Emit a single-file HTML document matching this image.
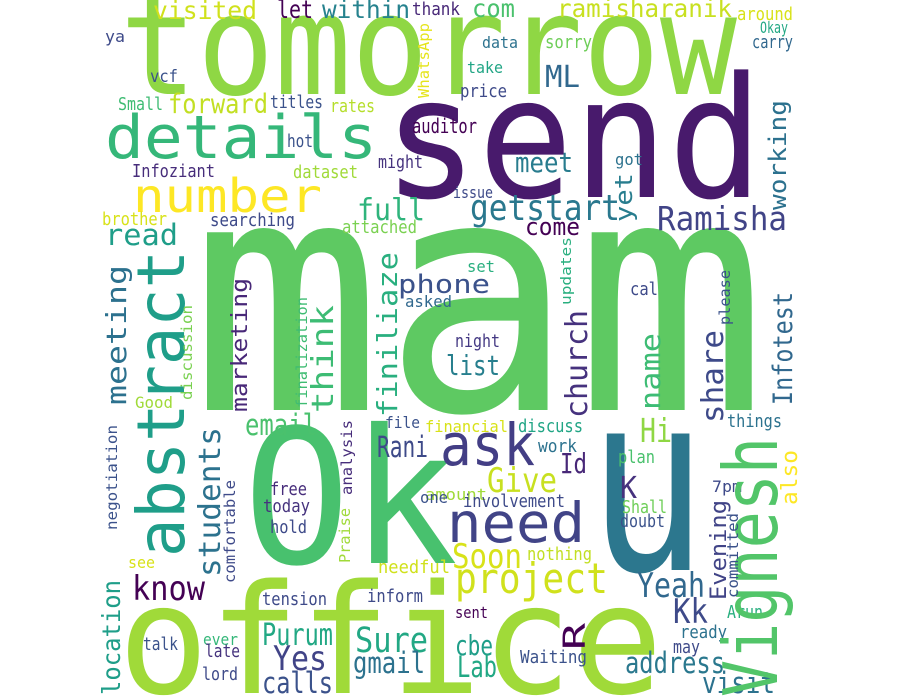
<!DOCTYPE html>
<html><head><meta charset="utf-8"><style>
html,body{margin:0;padding:0;background:#fff;width:900px;height:700px;overflow:hidden}
svg text{font-family:"DejaVu Sans Mono","Liberation Mono",monospace}
</style></head><body>
<svg id="cloud" width="900" height="700" viewBox="0 0 900 700" xmlns="http://www.w3.org/2000/svg">
<rect x="0" y="0" width="900" height="700" fill="#fff"/>
</svg>
<script>
// [text, x, y, fontSize, length, color, rotated]
const words = [
["tomorrow",120,94,140,617,"#8fd744",0],
["send",383,197,168,380,"#481a6c",0],
["mam",190,410,325,577,"#5ec962",0],
["Ok",243,563,187,215,"#48c16e",0],
["u",588,570,250,119,"#2c778e",0],
["office",118,693,152,545,"#a0da39",0],
["details",105,158,60,272,"#35b779",0],
["number",133,212,46,189,"#fde725",0],
["visited",153,19,25,104,"#d0e11c",0],
["let",277,18,25,36,"#440154",0],
["within",322,18,25,88,"#26828e",0],
["thank",412,15,18,48,"#482878",0],
["ya",105,42,16,20,"#3e4a89",0],
["vcf",150,82,17,28,"#3b528b",0],
["Small",118,110,18,45,"#3fbc73",0],
["forward",168,113,27,100,"#c2df23",0],
["titles",270,108,18,53,"#3b528b",0],
["rates",330,112,18,45,"#b5de2b",0],
["auditor",412,133,20,65,"#440154",0],
["hot",287,147,18,26,"#3b528b",0],
["might",378,168,18,45,"#46337e",0],
["Infoziant",132,177,18,83,"#472d7b",0],
["dataset",293,178,18,65,"#a0da39",0],
["full",357,220,30,68,"#2fb47c",0],
["brother",102,225,18,65,"#d8e219",0],
["searching",210,226,18,85,"#3e4a89",0],
["attached",342,233,18,75,"#7ad151",0],
["read",105,245,29,73,"#1f9e89",0],
["phone",398,293,26,92,"#3b528b",0],
["asked",405,307,16,47,"#31688e",0],
["com",472,17,25,43,"#4ac16d",0],
["ramisharanik",557,17,25,175,"#c8e020",0],
["around",737,20,18,56,"#d8e219",0],
["Okay",760,33,16,28,"#22a884",0],
["data",482,48,16,36,"#2c728e",0],
["sorry",545,48,18,47,"#6ece58",0],
["carry",752,48,18,41,"#31688e",0],
["take",467,73,16,36,"#21a585",0],
["ML",545,87,30,35,"#31688e",0],
["price",460,97,18,47,"#3e4a89",0],
["meet",515,172,28,58,"#287c8e",0],
["got",615,165,16,28,"#2c728e",0],
["issue",453,198,16,40,"#3e4a89",0],
["getstart",470,220,36,150,"#2a788e",0],
["Ramisha",657,230,33,130,"#414487",0],
["come",525,235,24,55,"#440154",0],
["set",467,272,16,28,"#29af7f",0],
["cal",630,295,18,28,"#3e4a89",0],
["night",455,347,18,45,"#443983",0],
["list",446,375,28,54,"#277f8e",0],
["Hi",640,442,33,32,"#8fd744",0],
["things",727,427,18,55,"#2c728e",0],
["discuss",518,432,18,65,"#21a585",0],
["financial",425,432,16,83,"#d8e219",0],
["file",385,428,16,35,"#3b528b",0],
["work",538,452,18,39,"#2c728e",0],
["plan",618,463,18,37,"#4ac16d",0],
["ask",440,465,58,95,"#433e85",0],
["Id",560,473,28,27,"#482878",0],
["Give",487,492,34,70,"#c8e020",0],
["K",620,498,30,17,"#46327e",0],
["7pm",712,492,16,30,"#3e4a89",0],
["amount",425,500,16,62,"#a0da39",0],
["involvement",463,507,18,102,"#3e4a89",0],
["one",420,503,16,28,"#3b528b",0],
["Shall",622,513,18,45,"#6ece58",0],
["doubt",620,527,18,45,"#3b528b",0],
["need",447,542,55,138,"#414487",0],
["Soon",452,568,34,70,"#d8e219",0],
["nothing",527,560,18,65,"#c2df23",0],
["project",455,593,42,153,"#d0e11c",0],
["Yeah",637,597,34,68,"#31688e",0],
["sent",455,618,16,33,"#440154",0],
["Arun",727,618,18,36,"#29af7f",0],
["Kk",673,623,34,35,"#3e4a89",0],
["ready",680,638,18,47,"#2c728e",0],
["cbe",455,655,28,38,"#1f9e89",0],
["may",673,653,18,27,"#3e4a89",0],
["Waiting",520,663,18,67,"#3b528b",0],
["address",625,673,29,100,"#2a788e",0],
["Lab",457,677,29,40,"#22a884",0],
["visit",702,693,29,73,"#2c728e",0],
["Good",135,408,16,38,"#a0da39",0],
["email",245,435,29,72,"#4ac16d",0],
["Rani",377,457,29,51,"#3e4a89",0],
["free",270,495,18,37,"#472d7b",0],
["today",263,512,18,47,"#46337e",0],
["hold",270,533,18,37,"#3e4a89",0],
["see",128,568,16,27,"#d8e219",0],
["needful",378,573,18,72,"#d0e11c",0],
["know",132,600,34,73,"#440154",0],
["tension",262,605,18,65,"#3e4a89",0],
["inform",367,602,18,56,"#3e4a89",0],
["Purum",262,645,30,71,"#22a884",0],
["Sure",355,652,35,73,"#22a884",0],
["ever",203,645,16,35,"#35b779",0],
["talk",143,650,18,35,"#3b528b",0],
["Yes",273,670,34,54,"#414487",0],
["late",205,657,18,35,"#46337e",0],
["gmail",353,673,29,72,"#2c728e",0],
["lord",202,680,18,36,"#3e4a89",0],
["calls",262,693,29,71,"#3b528b",0],
["abstract",184,557,66,307,"#1f9e89",1],
["meeting",126,405,28,140,"#2c718e",1],
["finiliaze",397,417,28,165,"#29af7f",1],
["think",333,413,30,108,"#3dbc74",1],
["marketing",247,412,22,134,"#482878",1],
["discussion",192,400,15,95,"#7ad151",1],
["finalization",307,408,15,111,"#3fbc73",1],
["WhatsApp",429,98,15,75,"#e5e419",1],
["working",786,210,24,110,"#2c718e",1],
["yet",632,222,24,49,"#287d8e",1],
["updates",571,305,14,68,"#29af7f",1],
["please",730,325,15,55,"#3b528b",1],
["Infotest",792,405,27,113,"#31688e",1],
["church",587,418,30,108,"#46327e",1],
["name",660,410,28,77,"#3dbc74",1],
["share",723,423,30,93,"#3e4a89",1],
["also",797,505,22,55,"#fde725",1],
["Vignesh",777,697,75,260,"#52c569",1],
["students",220,577,30,150,"#2c728e",1],
["negotiation",117,530,15,105,"#3b528b",1],
["comfortable",235,583,15,103,"#3e4a89",1],
["analysis",352,495,15,75,"#472d7b",1],
["Praise",350,563,15,55,"#a0da39",1],
["location",120,695,25,115,"#1f9e89",1],
["committed",738,598,15,85,"#3b528b",1],
["Evening",726,600,22,100,"#414487",1],
["R",585,650,30,27,"#440154",1]
];
const svg = document.getElementById('cloud');
const NS = 'http://www.w3.org/2000/svg';
for (const w of words) {
  const el = document.createElementNS(NS, 'text');
  
  
  el.textContent = w[0];
  el.setAttribute('font-size', w[3]);
  el.setAttribute('fill', w[5]);
  el.setAttribute('textLength', w[4]);
  el.setAttribute('lengthAdjust', 'spacingAndGlyphs');
  if (w[6]) {
    el.setAttribute('x', 0);
    el.setAttribute('y', 0);
    el.setAttribute('transform', 'translate(' + w[1] + ',' + w[2] + ') rotate(-90)');
  } else {
    el.setAttribute('x', w[1]);
    el.setAttribute('y', w[2]);
  }
  svg.appendChild(el);
}
</script>
</body></html>
